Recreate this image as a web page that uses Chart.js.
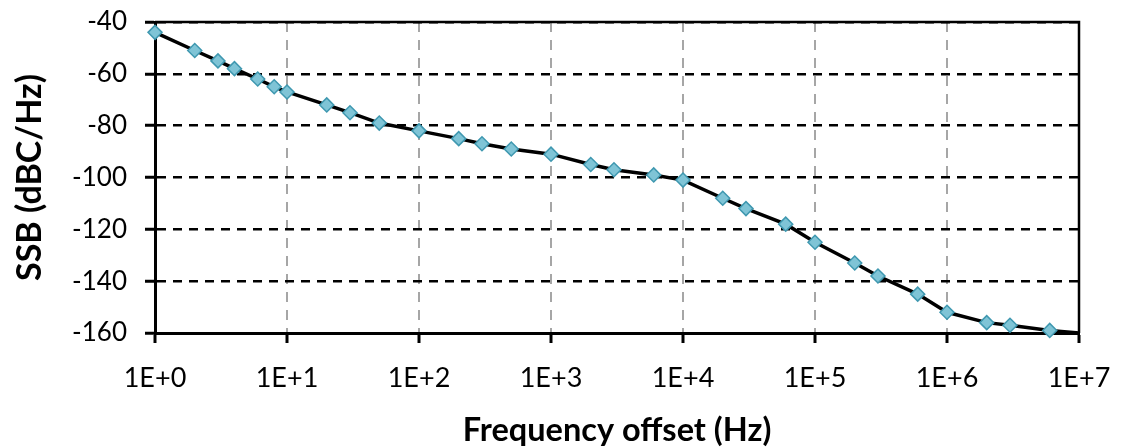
<!DOCTYPE html>
<html>
<head>
<meta charset="utf-8">
<script src="https://cdn.jsdelivr.net/npm/chart.js@4"></script>
<style>
  html, body { margin: 0; padding: 0; background: #fff; }
  #wrap { width: 1122px; height: 448px; }
</style>
</head>
<body>
<div id="wrap"><canvas id="ssbChart"></canvas></div>
<script>
// frequency offsets (Hz) and SSB phase noise (dBc/Hz)
const freqs = [1, 2, 3, 4, 6, 8, 10, 20, 30, 50, 100, 200, 300, 500, 1000, 2000, 3000, 6000,
  1e4, 2e4, 3e4, 6e4, 1e5, 2e5, 3e5, 6e5, 1e6, 2e6, 3e6, 6e6, 1e7];
const ssb = [-44, -51, -55, -58, -62, -65, -67, -72, -75, -79, -82, -85, -87, -89, -91, -95, -97, -99,
  -101, -108, -112, -118, -125, -133, -138, -145, -152, -156, -157, -159, -160];
// last point only carries the line to the edge, no marker there
const markerRadius = freqs.map((f, i) => i === freqs.length - 1 ? 0 : 7);

const xTickValues = [1, 10, 100, 1000, 1e4, 1e5, 1e6, 1e7];
const xTickLabels = ['1E+0', '1E+1', '1E+2', '1E+3', '1E+4', '1E+5', '1E+6', '1E+7'];

// solid frame along top and right edges of the plot
const framePlugin = {
  id: 'frame',
  beforeDatasetsDraw(chart) {
    const { ctx, chartArea: a } = chart;
    ctx.save();
    ctx.strokeStyle = '#000';
    ctx.lineWidth = 2.5;
    ctx.beginPath();
    ctx.moveTo(a.left, a.top);
    ctx.lineTo(a.right, a.top);
    ctx.lineTo(a.right, a.bottom);
    ctx.stroke();
    ctx.restore();
  }
};

new Chart(document.getElementById('ssbChart'), {
  type: 'line',
  data: {
    datasets: [{
      data: freqs.map((f, i) => ({ x: f, y: ssb[i] })),
      borderColor: '#000',
      borderWidth: 3.5,
      pointStyle: 'rectRot',
      pointRadius: markerRadius,
      pointBackgroundColor: '#7fc4d6',
      pointBorderColor: '#3f98b0',
      pointBorderWidth: 1.5,
      tension: 0,
      clip: false
    }]
  },
  options: {
    responsive: true,
    maintainAspectRatio: false,
    animation: false,
    layout: { padding: { top: 22, right: 43, left: 0, bottom: 0 } },
    plugins: { legend: { display: false }, tooltip: { enabled: false } },
    scales: {
      x: {
        type: 'logarithmic',
        min: 1,
        max: 1e7,
        afterBuildTicks: s => { s.ticks = xTickValues.map(v => ({ value: v })); },
        afterFit: s => { s.height = 115; s.paddingLeft = 0; s.paddingRight = 0; },
        ticks: {
          autoSkip: false,
          maxRotation: 0,
          padding: 19,
          color: '#000',
          font: { family: 'Lato', size: 27 },
          callback: (v) => xTickLabels[xTickValues.indexOf(v)]
        },
        grid: {
          color: '#a6a6a6',
          lineWidth: 2,
          tickLength: 10,
          tickColor: '#000',
          tickWidth: 3,
          tickBorderDash: []
        },
        border: { display: true, color: '#000', width: 3, dash: [10, 8] },
        title: {
          display: true,
          text: 'Frequency offset (Hz)',
          color: '#000',
          font: { family: 'Lato', size: 32.5, weight: 'bold', lineHeight: 1 },
          padding: { top: 0, bottom: 1 }
        }
      },
      y: {
        min: -160,
        max: -40,
        afterFit: s => { s.width = 155; s.paddingTop = 0; s.paddingBottom = 0; },
        ticks: {
          stepSize: 20,
          padding: 18,
          color: '#000',
          font: { family: 'Lato', size: 26 }
        },
        grid: {
          color: '#000',
          lineWidth: 2.5,
          tickLength: 10,
          tickColor: '#000',
          tickWidth: 3,
          tickBorderDash: []
        },
        border: { display: true, color: '#000', width: 3, dash: [9, 7] },
        title: {
          display: true,
          text: 'SSB (dBC/Hz)',
          color: '#000',
          font: { family: 'Lato', size: 34, weight: 'bold', lineHeight: 1.2 },
          padding: { top: 10, bottom: 0 }
        }
      }
    }
  },
  plugins: [framePlugin]
});
</script>
</body>
</html>
